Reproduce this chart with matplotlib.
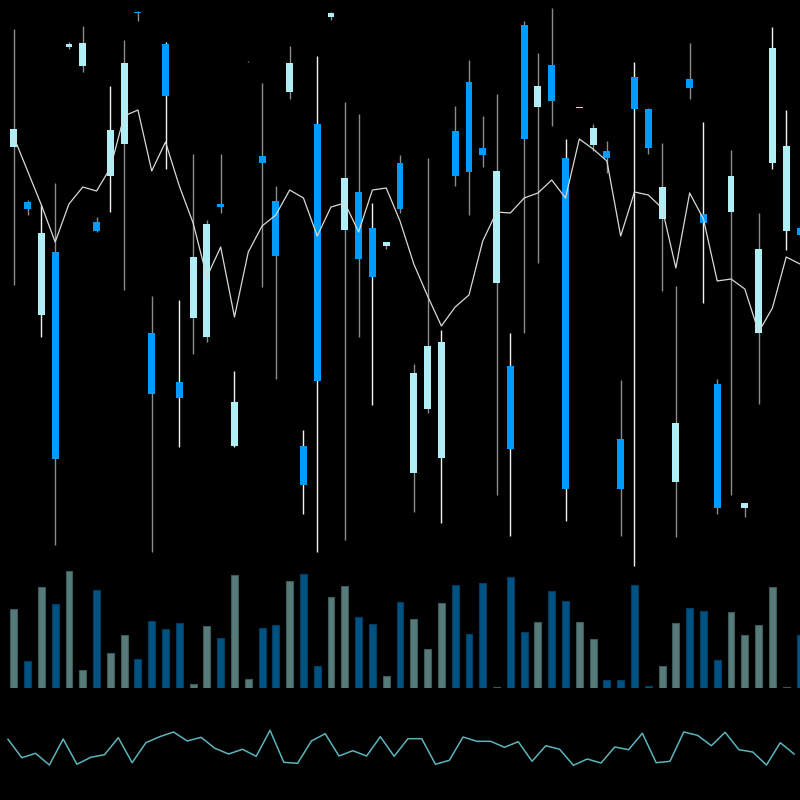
import numpy as np
import matplotlib
matplotlib.use("Agg")
import matplotlib.pyplot as plt

# ---- data ----
opens = [41.3, 35.8, 24.5, 30.8, 51.35, 49.4, 33.8, 38.4, 41.6, 54.85,
         22.7, 51.6, 17.8, 24.2, 22.3, 35.6, 11.4, 49.87, 40.4, 35.9,
         46.8, 11.4, 43.6, 54.32, 33.0, 36.8, 33.2, 31.4, 39.7, 8.7,
         15.1, 10.2, 42.9, 47.8, 41.25, 27.7, 19.4, 53.5, 45.3, 49.5,
         40.25, 45.18, 41.5, 40.9, 12.1, 48.3, 45.1, 34.1, 7.8, 48.1,
         34.6, 17.6, 34.8, 5.2, 22.7, 39.75, 32.9, 33.25]
highs = [53.1, 36.0, 35.5, 37.7, 51.8, 53.4, 34.3, 47.4, 52.0, 54.93,
         26.4, 51.8, 26.0, 40.6, 34.0, 40.6, 18.9, 49.95, 47.7, 37.4,
         51.4, 13.0, 50.4, 54.8, 45.8, 44.6, 35.75, 31.85, 40.5, 19.6,
         40.2, 23.0, 45.4, 50.0, 44.4, 46.6, 22.7, 53.9, 50.75, 55.2,
         42.1, 45.23, 43.6, 41.9, 18.0, 49.8, 45.2, 41.7, 27.4, 51.7,
         43.8, 18.1, 41.0, 5.7, 34.7, 53.3, 45.0, 33.4]
lows = [27.5, 34.5, 22.3, 1.5, 51.1, 48.8, 32.8, 34.8, 27.0, 53.93,
        0.8, 39.1, 11.3, 20.6, 21.8, 34.7, 11.3, 49.85, 27.3, 18.1,
        46.1, 4.6, 0.8, 54.0, 2.0, 22.3, 15.5, 31.1, 34.7, 4.8,
        14.75, 3.75, 37.4, 34.5, 39.3, 6.5, 2.4, 22.7, 29.75, 43.4,
        3.9, 45.17, 40.9, 38.7, 2.4, -0.6, 40.6, 26.9, 2.3, 46.1,
        25.7, 4.6, 6.5, 4.3, 15.6, 39.1, 31.0, 32.4]
closes = [43.1, 35.1, 32.7, 10.1, 51.6, 51.7, 32.9, 43.0, 49.75, 54.7,
          16.6, 46.4, 16.2, 30.3, 33.6, 35.35, 15.8, 49.92, 39.7, 30.4,
          49.7, 7.5, 17.9, 54.68, 38.2, 30.1, 28.3, 31.8, 35.1, 18.7,
          21.4, 21.8, 38.4, 38.8, 40.5, 38.9, 11.1, 42.1, 47.4, 45.9,
          7.1, 45.22, 43.25, 40.2, 7.1, 45.1, 41.25, 37.3, 13.7, 47.2,
          33.7, 5.2, 38.4, 5.7, 31.1, 51.2, 41.4, 32.5]
ma_line = [42.3, 38.9, 35.5, 31.8, 35.6, 37.3, 36.9, 39.2, 44.4, 45.0,
           38.9, 41.8, 37.4, 33.7, 28.3, 31.3, 24.3, 30.8, 33.4, 34.5,
           37.0, 36.2, 32.4, 35.3, 35.7, 32.8, 37.0, 37.2, 33.9, 29.6,
           26.4, 23.4, 25.3, 26.5, 31.9, 34.8, 34.7, 36.2, 36.7, 38.0,
           36.2, 42.1, 41.1, 39.9, 32.4, 36.8, 36.5, 35.2, 29.2, 36.7,
           34.1, 27.9, 28.1, 27.1, 22.8, 25.2, 30.3, 29.6]
volumes = [787, 270, 1007, 840, 1167, 183, 977, 350, 527, 287,
           670, 593, 650, 40, 617, 500, 1127, 90, 597, 627,
           1070, 1143, 223, 910, 1020, 713, 643, 120, 860, 687,
           387, 847, 1027, 537, 1047, 13, 1110, 563, 660, 967,
           870, 660, 493, 83, 77, 1027, 17, 217, 647, 800,
           773, 283, 760, 527, 633, 1007, 10, 527]
oscillator = [60.7, 42.3, 46.7, 35.0, 61.0, 35.7, 42.7, 45.3, 62.3, 37.3,
              57.3, 63.3, 68.0, 59.0, 62.7, 51.7, 46.0, 50.7, 43.7, 69.7,
              37.7, 36.7, 59.0, 66.3, 44.0, 49.3, 44.0, 63.3, 43.7,
              61.3, 61.3, 35.7, 39.7, 63.0, 58.7, 58.7, 52.7, 58.3, 38.7,
              54.3, 50.7, 34.7, 41.0, 37.0, 53.0, 50.3, 66.7, 37.3, 38.7,
              68.0, 64.7, 54.3, 67.7, 50.3, 48.0, 35.0, 57.3, 46.0]
# candles whose wick is drawn bright
bright_wick = [2, 7, 11, 12, 16, 21, 22, 26, 31, 36, 40, 45, 50, 55, 56]

# ---- styles ----
UP = "#aeeef4"
DOWN = "#009bff"
VOL_UP = "#577a7b"
VOL_UP_EDGE = "#3d5a5b"
VOL_DN = "#005282"
VOL_DN_EDGE = "#003d62"
BG = "black"

o = np.array(opens); h = np.array(highs); l = np.array(lows); c = np.array(closes)
n = len(o)
x = np.arange(n)
up = c >= o

fig = plt.figure(figsize=(8, 8), dpi=100, facecolor=BG)

# price panel
ax = fig.add_axes([0, 0.2875, 1, 0.7125])
ax.set_facecolor("none")
ax.set_xlim(-1, n - 1)
ax.set_ylim(-1, 56)
wick_cols = ["#f2f2f2" if i in bright_wick else "#8c8c8c" for i in range(n)]
ax.vlines(x, l, h, colors=wick_cols, linewidth=1.0, zorder=1)
body_bottom = np.minimum(o, c)
body_h = np.maximum(np.abs(c - o), 0.08)
ax.bar(x, body_h, bottom=body_bottom, width=0.5,
       color=[UP if u else DOWN for u in up], linewidth=0, zorder=2)
ax.plot(x, ma_line, color="#d9d9d9", linewidth=0.9, zorder=3)
ax.axis("off")

# volume panel
axv = fig.add_axes([0, 0.14, 1, 0.15])
axv.set_facecolor("none")
axv.set_xlim(-1, n - 1)
axv.set_ylim(0, 1200)
axv.bar(x, volumes, width=0.5,
        color=[VOL_UP if u else VOL_DN for u in up],
        edgecolor=[VOL_UP_EDGE if u else VOL_DN_EDGE for u in up],
        linewidth=0.8)
axv.axis("off")

# oscillator panel
axo = fig.add_axes([0, 0, 1, 0.125])
axo.set_facecolor("none")
axo.set_xlim(-0.58, n - 0.57)
axo.set_ylim(0, 100)
axo.plot(x, oscillator, color="#5cb4bc", linewidth=1.1)
axo.axis("off")

fig.savefig("out.png", dpi=100, facecolor=BG)
